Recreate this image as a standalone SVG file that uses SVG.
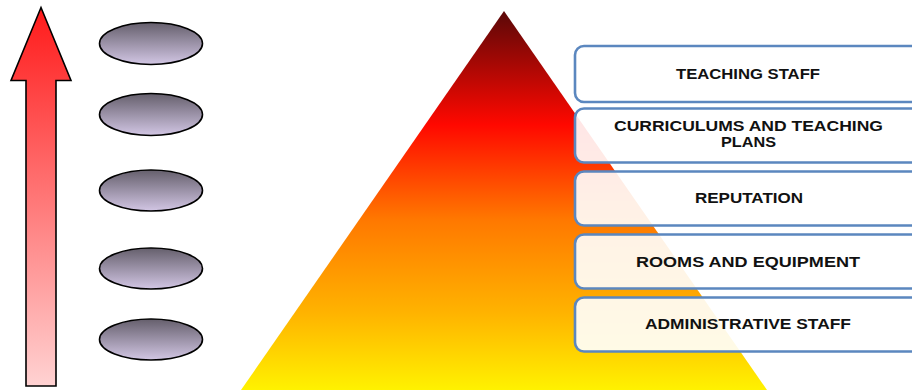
<svg xmlns="http://www.w3.org/2000/svg" width="912" height="390" viewBox="0 0 912 390">
<defs>
<linearGradient id="arrowGrad" x1="0" y1="0" x2="0" y2="1">
<stop offset="0" stop-color="#ff1a1a"/>
<stop offset="1" stop-color="#ffd2d2"/>
</linearGradient>
<linearGradient id="ellGrad" x1="0" y1="0" x2="0" y2="1">
<stop offset="0" stop-color="#655f6c"/>
<stop offset="1" stop-color="#d2c6e4"/>
</linearGradient>
<linearGradient id="pyrGrad" x1="0" y1="0" x2="0" y2="1">
<stop offset="0" stop-color="#5a0808"/>
<stop offset="0.3" stop-color="#ff0800"/>
<stop offset="0.55" stop-color="#ff7800"/>
<stop offset="0.8" stop-color="#ffb400"/>
<stop offset="1" stop-color="#fff200"/>
</linearGradient>
<style>
.ell{fill:url(#ellGrad);stroke:#000;stroke-width:1.6}
.box{fill:#fff;fill-opacity:0.9;stroke:#5b87bf;stroke-width:2.6}
.lbl{font-family:"Liberation Sans",Arial,sans-serif;font-weight:bold;font-size:15px;fill:#111;text-anchor:middle}
</style>
</defs>
<g id="arrow">
<path d="M26,386 L26,80.5 L11,80.5 L41,7.5 L71,80.5 L56,80.5 L56,386 Z" fill="url(#arrowGrad)" stroke="#000" stroke-width="1.6"/>
</g>
<g id="ellipses">
<ellipse class="ell" cx="151" cy="43.5" rx="51.5" ry="21"/>
<ellipse class="ell" cx="151" cy="114.5" rx="51.5" ry="21"/>
<ellipse class="ell" cx="151" cy="190.5" rx="51.5" ry="20.5"/>
<ellipse class="ell" cx="151" cy="268.5" rx="51.5" ry="20.5"/>
<ellipse class="ell" cx="151" cy="339.5" rx="51.5" ry="20.5"/>
</g>
<g id="pyramid">
<polygon points="504,11 767,390 241,390" fill="url(#pyrGrad)"/>
</g>
<g id="box1">
<rect class="box" x="575" y="46" width="360" height="56" rx="9"/>
<text class="lbl" x="748" y="79" textLength="144" lengthAdjust="spacingAndGlyphs">TEACHING STAFF</text>
</g>
<g id="box2">
<rect class="box" x="575" y="108.5" width="360" height="54" rx="9"/>
<text class="lbl" x="748.5" y="131" textLength="269" lengthAdjust="spacingAndGlyphs">CURRICULUMS AND TEACHING</text>
<text class="lbl" x="748.5" y="147" textLength="55" lengthAdjust="spacingAndGlyphs">PLANS</text>
</g>
<g id="box3">
<rect class="box" x="575" y="171.5" width="360" height="54" rx="9"/>
<text class="lbl" x="749" y="203" textLength="108" lengthAdjust="spacingAndGlyphs">REPUTATION</text>
</g>
<g id="box4">
<rect class="box" x="575" y="234.5" width="360" height="54" rx="9"/>
<text class="lbl" x="748" y="267" textLength="224" lengthAdjust="spacingAndGlyphs">ROOMS AND EQUIPMENT</text>
</g>
<g id="box5">
<rect class="box" x="575" y="297.5" width="360" height="54" rx="9"/>
<text class="lbl" x="748" y="329" textLength="206" lengthAdjust="spacingAndGlyphs">ADMINISTRATIVE STAFF</text>
</g>
<g id="connectors"/>
</svg>
